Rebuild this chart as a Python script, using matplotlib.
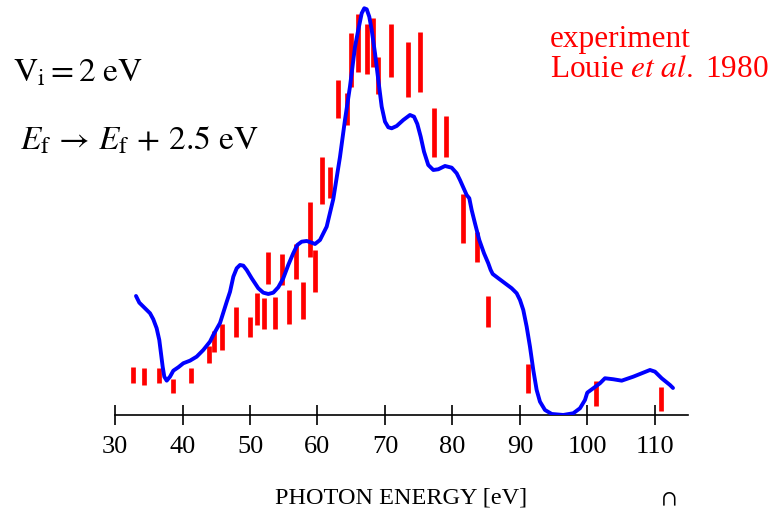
import numpy as np
import matplotlib
matplotlib.use("Agg")
import matplotlib.pyplot as plt

plt.rcParams['font.family'] = ['Liberation Serif', 'DejaVu Serif']
plt.rcParams['mathtext.fontset'] = 'stix'

# theory curve (photon energy in eV, intensity in arb. units)
theory_energy = [33.11, 33.60, 34.10, 34.70, 35.19, 35.67, 36.17, 36.56, 36.81, 37.06,
                 37.30, 37.66, 38.15, 38.64, 39.38, 40.12, 41.11, 42.10, 43.08, 44.07,
                 44.56, 45.56, 46.55, 47.04, 47.53, 48.03, 48.52, 49.01, 49.51, 50.25,
                 51.23, 51.97, 52.71, 53.45, 54.19, 54.93, 55.67, 56.41, 57.01, 57.66,
                 58.40, 59.14, 59.63, 60.37, 61.36, 62.34, 63.33, 64.07, 64.81, 65.56,
                 66.04, 66.55, 66.93, 67.29, 67.67, 68.03, 68.52, 69.01, 69.51, 70.00,
                 70.49, 70.99, 71.73, 72.71, 73.70, 74.30, 74.79, 75.29, 75.78, 76.41,
                 77.16, 77.90, 78.89, 79.88, 80.62, 81.11, 82.10, 82.49, 82.84, 83.33,
                 83.97, 84.67, 85.30, 85.66, 85.96, 86.79, 87.78, 88.77, 89.51, 90.00,
                 90.49, 90.99, 91.48, 91.97, 92.47, 92.96, 93.70, 94.70, 96.41, 97.90,
                 98.89, 99.63, 99.97, 100.86, 101.85, 102.59, 103.82, 105.07, 106.79, 108.27,
                 109.26, 110.00, 110.99, 112.22, 112.67]
theory_intensity = [29.75, 28.08, 27.25, 26.25, 25.43, 23.93, 21.68, 18.75, 15.43, 12.08,
                    9.58, 8.58, 9.58, 11.08, 11.93, 12.93, 13.58, 14.58, 16.25, 18.33,
                    20.0, 23.0, 28.3, 30.8, 34.58, 36.68, 37.5, 37.33, 36.25, 34.18,
                    31.68, 30.58, 30.25, 30.58, 31.93, 34.18, 37.5, 40.43, 42.5, 43.33,
                    43.5, 43.08, 42.75, 43.75, 47.08, 54.0, 64.5, 73.75, 82.08, 92.08,
                    96.25, 100.43, 101.68, 101.43, 99.58, 96.25, 90.43, 83.75, 77.08, 73.33,
                    71.93, 71.68, 72.25, 73.75, 75.0, 74.58, 72.75, 69.58, 65.83, 62.5,
                    61.25, 61.43, 62.25, 61.83, 60.43, 58.75, 55.0, 54.18, 51.25, 47.93,
                    43.75, 40.43, 37.93, 36.25, 35.25, 34.18, 32.93, 31.68, 30.43, 28.75,
                    26.25, 22.08, 17.08, 11.25, 6.25, 3.33, 1.25, 0.25, 0.0, 0.43,
                    1.68, 3.75, 5.58, 6.68, 7.93, 9.18, 8.93, 8.58, 9.58, 10.58,
                    11.25, 10.83, 9.18, 7.5, 6.75]

# experiment (Louie et al. 1980)
exp_energy = [32.67, 34.30, 36.52, 38.59, 41.26, 43.93, 44.67, 45.85, 47.93, 50.00,
              51.04, 52.07, 52.67, 53.70, 54.74, 55.78, 56.81, 57.85, 58.89, 59.63,
              60.67, 61.85, 63.04, 64.37, 64.96, 66.00, 67.33, 68.22, 68.96, 70.89,
              73.41, 75.19, 77.26, 79.04, 81.56, 83.63, 85.26, 91.19, 101.26, 110.89]
exp_intensity = [10.0, 9.63, 9.88, 7.25, 9.88, 15.13, 18.38, 19.5, 23.25, 22.0,
                 26.5, 25.38, 36.75, 25.5, 36.38, 27.0, 38.38, 28.63, 46.38, 36.0,
                 58.63, 58.13, 79.0, 76.5, 88.75, 93.0, 91.5, 93.13, 84.88, 91.13,
                 86.38, 88.25, 70.63, 69.63, 49.13, 42.0, 25.88, 9.13, 5.38, 4.0]
exp_error = [2.0, 2.1, 1.9, 1.75, 1.9, 2.1, 2.6, 3.25, 3.75, 2.5,
             4.0, 3.9, 4.0, 4.0, 3.9, 4.25, 4.4, 4.6, 6.9, 5.25,
             5.9, 3.9, 4.75, 4.0, 6.75, 7.25, 6.25, 6.1, 4.6, 6.6,
             6.9, 7.5, 6.1, 5.1, 6.1, 3.75, 3.9, 3.6, 3.1, 3.0]

xticks = [30, 40, 50, 60, 70, 80, 90, 100, 110]

fig = plt.figure(figsize=(7.75, 5.12), dpi=100)
ax = fig.add_axes([0.1484, 0.1895, 0.7394, 0.8105])

ax.errorbar(exp_energy, exp_intensity, yerr=exp_error, fmt='none',
            ecolor='#ff0000', elinewidth=3.4, capsize=0, zorder=2)
ax.plot(theory_energy, theory_intensity, color='#0000ff', lw=2.8,
        solid_joinstyle='round', solid_capstyle='round', zorder=3)

ax.set_xlim(30, 114.9)
ax.set_ylim(0, 103.75)
for s in ['left', 'right', 'top']:
    ax.spines[s].set_visible(False)
ax.spines['bottom'].set_linewidth(1.2)
ax.set_yticks([])
ax.set_xticks(xticks)
ax.tick_params(axis='x', direction='inout', length=13.7, width=1.2,
               labelsize=19, pad=8.5)
ax.set_xlabel('PHOTON ENERGY [eV]', fontsize=17.5, labelpad=21)

fig.text(13 / 775, 1 - 82 / 512, r'$\mathrm{V}_\mathrm{i} = 2\ \mathrm{eV}$',
         fontsize=24, va='baseline', ha='left')
fig.text(20 / 775, 1 - 150 / 512,
         r'$E_\mathrm{f}\,\rightarrow\,E_\mathrm{f}\,+\,2.5\ \mathrm{eV}$',
         fontsize=24, va='baseline', ha='left')
fig.text(550 / 775, 1 - 47 / 512, 'experiment', color='#ff0000',
         fontsize=22.5, va='baseline', ha='left')
fig.text(550 / 775, 1 - 77 / 512, r'Louie $\it{et\ al.}$ 1980', color='#ff0000',
         fontsize=22.5, va='baseline', ha='left')
# small stray mark at the bottom edge of the original figure
fig.text(669 / 775, 1 - 510 / 512, r'$\cap$', fontsize=17, ha='center', va='bottom')

fig.savefig('out.png', dpi=100)
